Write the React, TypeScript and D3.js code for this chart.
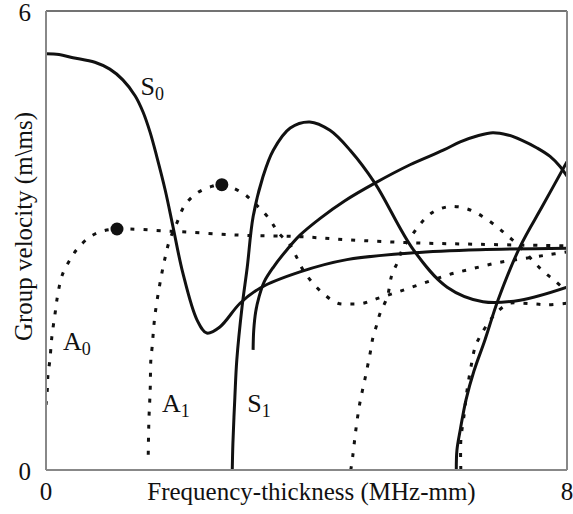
import React from "react";
import * as d3 from "d3";

type Pt = [number, number];

// Frequency-thickness (MHz-mm), group velocity (m/ms)
const S0: Pt[] = [
  [0, 5.44], [0.2, 5.43], [0.415, 5.39], [0.75, 5.33], [0.98, 5.24], [1.18, 5.1],
  [1.37, 4.89], [1.49, 4.68], [1.6, 4.41], [1.7, 4.1], [1.83, 3.66], [1.95, 3.18],
  [2.1, 2.58], [2.32, 1.96], [2.47, 1.79], [2.67, 1.87], [2.98, 2.18], [3.29, 2.38],
  [3.9, 2.59], [4.62, 2.75], [5.64, 2.84], [6.66, 2.88], [8.0, 2.9],
];
const S1: Pt[] = [
  [2.86, 0], [2.87, 0.35], [2.9, 0.95], [2.93, 1.44], [3.01, 2.13], [3.09, 2.65],
  [3.18, 3.31], [3.33, 3.83], [3.49, 4.18], [3.75, 4.47], [4.05, 4.55], [4.36, 4.44],
  [4.67, 4.18], [5.05, 3.75], [5.64, 2.88], [6.16, 2.39], [6.71, 2.2], [7.28, 2.22],
  [8.0, 2.39],
];
const S2: Pt[] = [
  [3.18, 1.57], [3.19, 1.83], [3.22, 2.07], [3.27, 2.26], [3.35, 2.46], [3.49, 2.65],
  [3.7, 2.88], [3.9, 3.07], [4.21, 3.29], [4.59, 3.52], [5.05, 3.75], [5.59, 3.99],
  [6.1, 4.18], [6.36, 4.29], [6.63, 4.37], [6.86, 4.41], [7.09, 4.38], [7.31, 4.31],
  [7.54, 4.21], [7.74, 4.1], [7.89, 3.97], [8.0, 3.84],
];
const S3: Pt[] = [
  [6.3, 0], [6.31, 0.26], [6.36, 0.52], [6.45, 0.92], [6.57, 1.29], [6.74, 1.7],
  [6.94, 2.22], [7.28, 2.92], [7.63, 3.46], [8.0, 4.03],
];
const A0: Pt[] = [
  [0, 0.85], [0.02, 1.05], [0.03, 1.24], [0.06, 1.44], [0.09, 1.74], [0.14, 2.05],
  [0.18, 2.29], [0.25, 2.55], [0.37, 2.75], [0.49, 2.9], [0.68, 3.05], [0.86, 3.12],
  [1.09, 3.15], [1.95, 3.12], [2.98, 3.07], [3.9, 3.05], [4.62, 3.01], [5.64, 2.97],
  [6.66, 2.95], [8.0, 2.93],
];
const A1: Pt[] = [
  [1.57, 0.2], [1.58, 0.65], [1.6, 1.05], [1.61, 1.44], [1.63, 1.61], [1.67, 2.0],
  [1.75, 2.44], [1.83, 2.78], [1.9, 3.01], [2.01, 3.23], [2.13, 3.46], [2.32, 3.62],
  [2.52, 3.7], [2.7, 3.73], [3.02, 3.62], [3.26, 3.44], [3.44, 3.27], [3.56, 3.11],
  [3.75, 2.94], [3.85, 2.78], [3.95, 2.61], [4.1, 2.44], [4.28, 2.29], [4.48, 2.18],
  [4.67, 2.17], [4.87, 2.18], [5.08, 2.24], [5.41, 2.33], [5.79, 2.44], [6.17, 2.55],
  [6.54, 2.63], [6.94, 2.71], [7.31, 2.76], [7.69, 2.81], [8.0, 2.85],
];
const A2: Pt[] = [
  [4.68, 0], [4.71, 0.18], [4.76, 0.54], [4.82, 0.88], [4.9, 1.2], [4.98, 1.54],
  [5.02, 1.73], [5.08, 1.9], [5.13, 2.05], [5.24, 2.26], [5.31, 2.55], [5.4, 2.72],
  [5.48, 2.9], [5.62, 3.07], [5.77, 3.24], [5.94, 3.37], [6.16, 3.44], [6.33, 3.44],
  [6.54, 3.39], [6.71, 3.31], [6.91, 3.19], [7.09, 3.06], [7.28, 2.92], [7.46, 2.75],
  [7.63, 2.6], [7.82, 2.47], [8.0, 2.33],
];
const A3: Pt[] = [
  [6.37, 0], [6.37, 0.39], [6.42, 0.72], [6.46, 1.01], [6.53, 1.37], [6.59, 1.61],
  [6.66, 1.74], [6.79, 1.92], [6.93, 2.07], [7.12, 2.18], [7.32, 2.18], [7.51, 2.17],
  [7.69, 2.16], [8.0, 2.18],
];

// highlighted points on the antisymmetric modes
const markers: Pt[] = [[1.09, 3.15], [2.7, 3.73]];

const xTicks = [0, 8];
const yTicks = [0, 6];

const modeLabels = [
  { mode: "S", sub: "0", f: 1.45, v: 4.9 },
  { mode: "A", sub: "0", f: 0.26, v: 1.57 },
  { mode: "A", sub: "1", f: 1.78, v: 0.76 },
  { mode: "S", sub: "1", f: 3.09, v: 0.76 },
];

const W = 573;
const H = 514;
const M = { left: 46, right: 6, top: 11, bottom: 44 };
const FONT = "'Liberation Serif', 'Times New Roman', 'DejaVu Serif', serif";

export default function App() {
  const x = d3.scaleLinear().domain([0, 8]).range([M.left, W - M.right]);
  const y = d3.scaleLinear().domain([0, 6]).range([H - M.bottom, M.top]);
  const line = d3
    .line<Pt>()
    .x((d) => x(d[0]))
    .y((d) => y(d[1]))
    .curve(d3.curveCatmullRom.alpha(0.5));

  const solid = [S0, S1, S2, S3];
  const dotted = [A0, A1, A2, A3];

  return (
    <svg width={W} height={H} style={{ position: "absolute", left: 0, top: 0 }}>
      <rect width={W} height={H} fill="#fff" />
      <defs>
        <clipPath id="plot">
          <rect x={x(0)} y={y(6)} width={x(8) - x(0)} height={y(0) - y(6)} />
        </clipPath>
      </defs>
      <g clipPath="url(#plot)">
        {dotted.map((d, i) => (
          <path key={"a" + i} d={line(d) ?? ""} fill="none" stroke="#111" strokeWidth={3} strokeDasharray="4,9" />
        ))}
        {solid.map((d, i) => (
          <path key={"s" + i} d={line(d) ?? ""} fill="none" stroke="#111" strokeWidth={3} />
        ))}
      </g>
      {markers.map((d, i) => (
        <circle key={i} cx={x(d[0])} cy={y(d[1])} r={6.5} fill="#111" />
      ))}
      {/* frame */}
      <line x1={x(0)} x2={x(8)} y1={y(6)} y2={y(6)} stroke="#444" strokeWidth={1.5} />
      <line x1={x(0)} x2={x(0)} y1={y(6)} y2={y(0)} stroke="#888" strokeWidth={2} />
      <line x1={x(8)} x2={x(8)} y1={y(6)} y2={y(0)} stroke="#888" strokeWidth={2} />
      <line x1={x(0)} x2={x(8)} y1={y(0)} y2={y(0)} stroke="#888" strokeWidth={2} />
      <g style={{ fontFamily: FONT }} fontSize={25} fill="#111">
        {yTicks.map((t) => (
          <text key={"y" + t} x={x(0) - 15} y={y(t)} dy="0.38em" textAnchor="end">{t}</text>
        ))}
        {xTicks.map((t) => (
          <text key={"x" + t} x={x(t)} y={500} textAnchor="middle">{t}</text>
        ))}
        <text x={(x(0) + x(8)) / 2 + 5} y={500} textAnchor="middle">Frequency-thickness (MHz-mm)</text>
        <text transform={`translate(32, ${(y(0) + y(6)) / 2 - 14}) rotate(-90)`} textAnchor="middle">
          Group velocity (m\ms)
        </text>
        {modeLabels.map((l, i) => (
          <text key={i} x={x(l.f)} y={y(l.v)} fontSize={26}>
            {l.mode}
            <tspan fontSize={18} dy={5}>{l.sub}</tspan>
          </text>
        ))}
      </g>
    </svg>
  );
}
